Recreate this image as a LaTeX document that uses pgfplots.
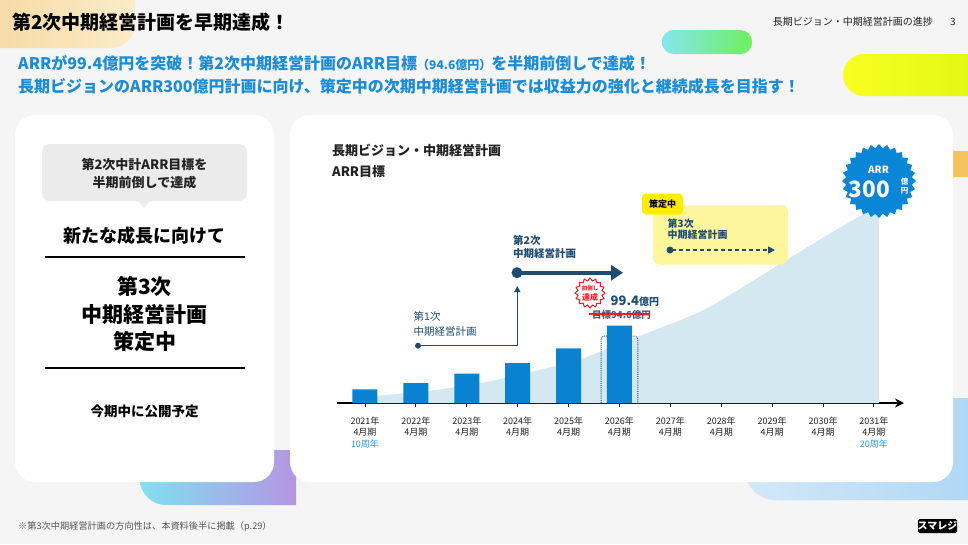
\documentclass[border=0pt]{standalone}
\usepackage{fontspec}
\setmainfont{Noto Sans CJK JP}
\usepackage{pgfplots}
\pgfplotsset{compat=1.18}
\usetikzlibrary{arrows.meta,shapes.geometric}
\definecolor{bg}{HTML}{F5F5F5}
\definecolor{navy}{HTML}{1F4C73}
\definecolor{barblue}{HTML}{0A82D2}
\definecolor{areablue}{HTML}{D3E8F0}
\definecolor{subblue}{HTML}{1A8CD8}
\definecolor{starblue}{HTML}{0A86D6}
\definecolor{ylbox}{HTML}{FEF69D}
\definecolor{yltag}{HTML}{FFEC00}
\definecolor{redc}{HTML}{EE1C24}
\definecolor{bubble}{HTML}{EBEBEB}
\definecolor{dtext}{HTML}{222222}
\definecolor{tblue}{HTML}{2A9BE0}
\definecolor{peachA}{RGB}{246,214,158}
\definecolor{peachB}{RGB}{251,236,200}
\definecolor{cyanA}{RGB}{132,230,238}
\definecolor{greenB}{RGB}{110,240,96}
\definecolor{ylA}{RGB}{248,255,32}
\definecolor{ylB}{RGB}{220,246,16}
\definecolor{orangeC}{RGB}{245,195,92}
\definecolor{cyanC}{RGB}{128,224,240}
\definecolor{purpC}{RGB}{180,150,226}
\definecolor{lbA}{RGB}{210,232,248}
\definecolor{lbB}{RGB}{170,212,245}
\definecolor{footgray}{RGB}{85,85,85}
\definecolor{strikegray}{RGB}{70,90,110}
\begin{document}
\begin{tikzpicture}[x=1pt,y=-1pt]
% background
\fill[bg] (0,0) rectangle (968,544);
\begin{scope}
\clip (0,0) rectangle (968,544);
% decorative blobs
\shade[left color=peachA, right color=peachB, rounded corners=24pt] (-40,-40) rectangle (135,48);
\shade[left color=cyanA, right color=greenB, rounded corners=11.5pt] (662,30) rectangle (752,54);
\shade[left color=ylA, right color=ylB, rounded corners=21pt] (843,54) rectangle (1010,96);
\fill[orangeC] (953,151) rectangle (970,177);
\shade[left color=cyanC, right color=purpC] (296,450) -- (150,450) [rounded corners=26pt] -- (140,450) -- (140,505) [sharp corners] -- (296,505) -- cycle;
\shade[left color=lbA, right color=lbB, rounded corners=30pt] (745,398) rectangle (1010,500);
\end{scope}
% header
\node[anchor=west, font=\bfseries\fontsize{19}{22}\selectfont, text=black, inner sep=0] at (12,22) {第2次中期経営計画を早期達成！};
\node[anchor=east, font=\fontsize{10}{12}\selectfont, text=dtext, inner sep=0] at (933,21.7) {長期ビジョン・中期経営計画の進捗};
\node[anchor=center, font=\fontsize{10}{12}\selectfont, text=dtext, inner sep=0] at (953,21.7) {3};
\node[anchor=west, font=\bfseries\fontsize{16}{20}\selectfont, text=subblue, inner sep=0] at (18,63) {ARRが99.4億円を突破！第2次中期経営計画のARR目標{\fontsize{12}{14}\selectfont （94.6億円）}を半期前倒しで達成！};
\node[anchor=west, font=\bfseries\fontsize{16}{20}\selectfont, text=subblue, inner sep=0] at (18,86.5) {長期ビジョンのARR300億円計画に向け、策定中の次期中期経営計画では収益力の強化と継続成長を目指す！};
% panels
\fill[white, rounded corners=20pt] (15,115) rectangle (274,482);
\fill[white, rounded corners=20pt] (290,115) rectangle (953,482);
% left panel
\fill[bubble, rounded corners=8pt] (42,144) rectangle (247,201);
\fill[bubble] (137,200) -- (151,200) -- (144,208) -- cycle;
\node[align=center, font=\bfseries\fontsize{13}{18}\selectfont, text=dtext] at (144.5,173.5) {第2次中計ARR目標を\\半期前倒しで達成};
\node[font=\bfseries\fontsize{18}{20}\selectfont, text=black] at (144.5,236) {新たな成長に向けて};
\draw[line width=1.8pt, black] (45,257.3) -- (245,257.3);
\node[align=center, font=\bfseries\fontsize{21}{27.5}\selectfont, text=black] at (144.5,314) {第3次\\中期経営計画\\策定中};
\draw[line width=1.8pt, black] (45,368.3) -- (245,368.3);
\node[font=\bfseries\fontsize{13.5}{16}\selectfont, text=black] at (144.5,411.7) {今期中に公開予定};
% footnote
\node[anchor=west, font=\fontsize{9.2}{11}\selectfont, text=footgray, inner sep=0] at (18,526.7) {※第3次中期経営計画の方向性は、本資料後半に掲載（p.29）};
% logo
\fill[black, rounded corners=1.5pt] (918,519) rectangle (957,533);
\node[font=\bfseries\fontsize{10}{11}\selectfont, text=white, inner sep=0] at (937.5,526) {スマレジ};
% right panel titles
\node[anchor=west, font=\bfseries\fontsize{13}{15}\selectfont, text=dtext, inner sep=0] at (332,150) {長期ビジョン・中期経営計画};
\node[anchor=west, font=\bfseries\fontsize{13}{15}\selectfont, text=dtext, inner sep=0] at (332,171.7) {ARR目標};
% chart
\begin{axis}[
  at={(337pt,-403pt)}, anchor=south west,
  scale only axis, width=567pt, height=233.4pt,
  xmin=2020.45, xmax=2031.59, ymin=0, ymax=300,
  axis x line=bottom, axis y line=none,
  x axis line style={-{Stealth[length=9pt,width=9pt]}, line width=1.6pt, black},
  xtick={2021,...,2031}, ytick=\empty,
  xticklabels={{2021年\\4月期\\\textcolor{tblue}{10周年}},{2022年\\4月期},{2023年\\4月期},{2024年\\4月期},{2025年\\4月期},{2026年\\4月期},{2027年\\4月期},{2028年\\4月期},{2029年\\4月期},{2030年\\4月期},{2031年\\4月期\\\textcolor{tblue}{20周年}}},
  xticklabel style={font=\fontsize{9}{11.5}\selectfont, text=dtext, align=center, inner sep=1pt, yshift=-9pt},
  tick align=center, major tick length=7pt,
  tick style={black, line width=0.9pt},
  clip=false,
]
% long-term plan area (illustrative growth curve to ARR 300)
\addplot[fill=areablue, draw=none, smooth] coordinates {
 (2021.0,8.5) (2021.24,9.4) (2022.24,15.4) (2023.25,25.3) (2024.24,39.5) (2025.24,56.6)
 (2026.34,84.8) (2027.52,115.3) (2028.17,138.8) (2029.09,176) (2030.14,218) (2031.1,254.5)} \closedcycle;
\draw[navy, densely dotted, line width=0.9pt, rounded corners=3pt] (axis cs:2025.64,0) -- (axis cs:2025.64,86) -- (axis cs:2026.36,86) -- (axis cs:2026.36,0);
% ARR actuals (億円)
\addplot[ybar, bar width=25pt, fill=barblue, draw=none] coordinates {
 (2021,17.6) (2022,25.7) (2023,37.7) (2024,51.4) (2025,70.3) (2026,99.4)};
\end{axis}
% plan annotations
\node[anchor=west, align=left, font=\fontsize{10.5}{15}\selectfont, text=navy, inner sep=0] at (413.5,323.5) {第1次\\中期経営計画};
\draw[navy, line width=1.3pt, -{Triangle[length=6pt,width=6pt]}] (418,345.7) -- (517.3,345.7) -- (517.3,286);
\fill[navy] (418,345.7) circle (3pt);
\node[anchor=west, align=left, font=\bfseries\fontsize{10.5}{12.5}\selectfont, text=navy, inner sep=0] at (513,247.2) {第2次\\中期経営計画};
\draw[navy, line width=4pt, -{Triangle[length=12pt,width=15pt]}] (517,272.7) -- (623,272.7);
\fill[navy] (517,272.7) circle (5.5pt);
% third plan box
\fill[ylbox, rounded corners=7pt] (653,205) rectangle (788,264.5);
\fill[yltag, rounded corners=4pt] (642,193.5) rectangle (683,214.5);
\node[font=\bfseries\fontsize{9}{10}\selectfont, text=black, inner sep=0] at (662.5,204) {策定中};
\node[anchor=west, align=left, font=\bfseries\fontsize{10}{11.7}\selectfont, text=navy, inner sep=0] at (667.5,229.2) {第3次\\中期経営計画};
\draw[navy, line width=1.5pt, dash pattern=on 4pt off 3pt, -{Triangle[length=7pt,width=7pt]}] (672,250) -- (775,250);
\fill[navy] (670,250) circle (3.5pt);
% achievement badge
\node[star, star points=16, star point ratio=1.22, draw=redc, fill=white, line width=1pt, minimum size=30pt, inner sep=0] at (590,293) {};
\node[align=center, font=\bfseries\fontsize{5.5}{6.5}\selectfont, text=redc, inner sep=0] at (590,288.3) {前倒し};
\node[align=center, font=\bfseries\fontsize{8}{9}\selectfont, text=redc, inner sep=0] at (590,297.7) {達成};
\node[anchor=west, font=\bfseries\fontsize{13}{15}\selectfont, text=navy, inner sep=0] at (610.5,301.5) {99.4{\fontsize{10}{12}\selectfont 億円}};
\node[anchor=west, font=\bfseries\fontsize{9.5}{11}\selectfont, text=strikegray, inner sep=0] at (592,315) {目標94.6億円};
\draw[redc, line width=1.3pt] (589,314) -- (650,314);
% ARR 300 badge
\node[star, star points=28, star point ratio=1.12, fill=starblue, minimum size=74pt, inner sep=0] at (879,181) {};
\node[font=\bfseries\fontsize{10}{11}\selectfont, text=white, inner sep=0] at (878.5,170) {ARR};
\node[font=\bfseries\fontsize{22.5}{24}\selectfont, text=white, inner sep=0] at (869.5,189) {300};
\node[font=\bfseries\fontsize{7.5}{8}\selectfont, text=white, inner sep=0] at (904.5,181.5) {億};
\node[font=\bfseries\fontsize{7.5}{8}\selectfont, text=white, inner sep=0] at (904.5,191) {円};
\end{tikzpicture}
\end{document}
